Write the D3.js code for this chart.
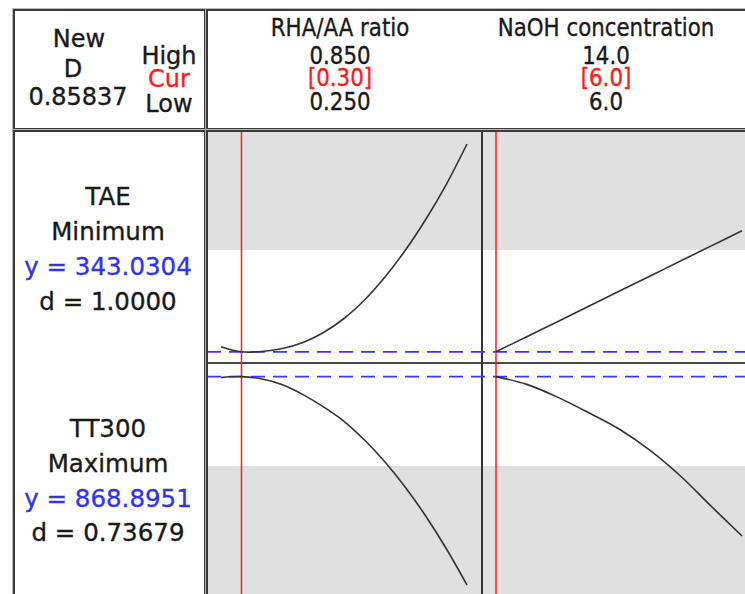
<!DOCTYPE html>
<html>
<head>
<meta charset="utf-8">
<script src="https://cdn.jsdelivr.net/npm/d3@7"></script>
<style>
  html, body { margin: 0; padding: 0; background: #fff; }
  svg { display: block; }
  text { font-family: "DejaVu Sans", Verdana, sans-serif; stroke-width: 0.35px; }
</style>
</head>
<body>
<svg id="chart" width="745" height="594"></svg>
<script>
// ---- Optimizer settings ----
const compositeD = "0.85837";
const factorNames = ["RHA/AA ratio", "NaOH concentration"];
const factorHighLabels = ["0.850", "14.0"];
const factorCurLabels = ["[0.30]", "[6.0]"];
const factorLowLabels = ["0.250", "6.0"];
const factorLow = [0.25, 6.0];
const factorHigh = [0.85, 14.0];
const factorCur = [0.30, 6.0];

// ---- Responses ----
const responseNames = ["TAE", "TT300"];
const responseGoals = ["Minimum", "Maximum"];
const responsePredicted = [343.0304, 868.8951];
const responsePredictedLabels = ["y = 343.0304", "y = 868.8951"];
const responseDLabels = ["d = 1.0000", "d = 0.73679"];
const responseDomains = [[290, 1390], [490, 892.5]];
// shaded (undesirable) zone of each response
const responseShade = [[826, 1390], [490, 714]];

// ---- Prediction traces ----
const ratioGrid = [0.25, 0.30, 0.35, 0.40, 0.45, 0.50, 0.55, 0.60, 0.65, 0.70, 0.75, 0.80, 0.85];
const taeVsRatio = [367.3, 343.03, 344.5, 358.7, 387.2, 434.6, 501.0, 588.7, 697.7, 825.7, 972.7, 1138.6, 1328.3];
const tt300VsRatio = [867.3, 868.9, 864.7, 854.8, 837.7, 816.3, 791.4, 758.9, 720.7, 676.5, 626.2, 569.8, 507.3];

const naohGrid = [6, 7, 8, 9, 10, 11, 12, 13, 14];
const taeVsNaoh = [343.03, 414.5, 486.0, 558.1, 629.8, 701.6, 773.4, 845.3, 917.2];
const tt300VsNaoh = [868.9, 855.4, 833.3, 806.6, 778.0, 741.4, 696.5, 643.9, 592.4];

const traces = [
  [ {x: ratioGrid, y: taeVsRatio},   {x: naohGrid, y: taeVsNaoh} ],
  [ {x: ratioGrid, y: tt300VsRatio}, {x: naohGrid, y: tt300VsNaoh} ]
];

// ---- Layout ----
const W = 745, H = 594;
const leftX = 14, leftW = 191;
const gridX = 207, gridRight = 767;
const topY = 10, headH = 119;
const plotTop = 131, plotBottom = 601;
const panelW = 275;
const rowH = 232;
const headerCentres = [340, 606];

const svg = d3.select("#chart");
svg.append("rect").attr("width", W).attr("height", H).attr("fill", "#fff");

const blue = "#3333ee", red = "#ff1a1a", ink = "#1a1a1a";

// x scale of each factor panel
const xScales = factorNames.map((_, i) => {
  const left = gridX + i * panelW;
  return d3.scaleLinear().domain([factorLow[i], factorHigh[i]]).range([left + 14, left + 260]);
});
// y scale of each response row
const yScales = responseNames.map((_, r) => {
  const top = plotTop + r * rowH;
  return d3.scaleLinear().domain(responseDomains[r]).range([top + rowH, top]);
});

// ---- Plot area contents (clipped to the frame) ----
svg.append("defs").append("clipPath").attr("id", "plotClip")
  .append("rect").attr("x", gridX + 1).attr("y", plotTop + 1)
  .attr("width", gridRight - gridX).attr("height", plotBottom - plotTop);

const plot = svg.append("g").attr("clip-path", "url(#plotClip)");

// shaded zones
responseNames.forEach((_, r) => {
  const y = yScales[r];
  plot.append("rect")
    .attr("x", gridX).attr("width", gridRight - gridX)
    .attr("y", y(responseShade[r][1]))
    .attr("height", y(responseShade[r][0]) - y(responseShade[r][1]))
    .attr("fill", "#e0e0e0");
});

// row separator
plot.append("line")
  .attr("x1", gridX).attr("x2", gridRight)
  .attr("y1", plotTop + rowH).attr("y2", plotTop + rowH)
  .attr("stroke", "#4a4a4a").attr("stroke-width", 2);

// panel divider
plot.append("line")
  .attr("x1", gridX + panelW).attr("x2", gridX + panelW)
  .attr("y1", plotTop).attr("y2", plotBottom)
  .attr("stroke", "#333").attr("stroke-width", 2);

// current-setting lines
factorNames.forEach((_, i) => {
  const x = xScales[i](factorCur[i]);
  plot.append("line")
    .attr("x1", x).attr("x2", x).attr("y1", plotTop).attr("y2", plotBottom)
    .attr("stroke", red).attr("stroke-width", 1.5);
});

// predicted-response lines
responseNames.forEach((_, r) => {
  const y = yScales[r](responsePredicted[r]);
  plot.append("line")
    .attr("x1", gridX).attr("x2", gridRight).attr("y1", y).attr("y2", y)
    .attr("stroke", "#3a3af5").attr("stroke-width", 1.8)
    .attr("stroke-dasharray", "14,8");
});

// prediction traces
traces.forEach((row, r) => {
  row.forEach((tr, i) => {
    const pts = tr.x.map((v, k) => [v, tr.y[k]]);
    const line = d3.line()
      .x(d => xScales[i](d[0]))
      .y(d => yScales[r](d[1]))
      .curve(d3.curveCatmullRom.alpha(0.5));
    plot.append("path").attr("d", line(pts))
      .attr("fill", "none").attr("stroke", "#333").attr("stroke-width", 1.6);
  });
});

// ---- Frames ----
function frame(x, y, w, h) {
  svg.append("rect").attr("x", x - 1.5).attr("y", y - 1.5).attr("width", w + 3).attr("height", h + 3)
    .attr("fill", "none").attr("stroke", "#b8b8b8").attr("stroke-width", 1);
  svg.append("rect").attr("x", x).attr("y", y).attr("width", w).attr("height", h)
    .attr("fill", "none").attr("stroke", "#3a3a3a").attr("stroke-width", 2);
}
frame(leftX, topY, leftW, headH);
frame(gridX, topY, gridRight - gridX, headH);
frame(leftX, plotTop, leftW, plotBottom - plotTop);
frame(gridX, plotTop, gridRight - gridX, plotBottom - plotTop);

// ---- Composite desirability box ----
const tl = svg.append("g").attr("font-size", 24).attr("fill", ink).attr("stroke", ink)
  .attr("text-anchor", "middle");
tl.append("text").attr("x", 79).attr("y", 47).text("New");
tl.append("text").attr("x", 73).attr("y", 77).text("D");
tl.append("text").attr("x", 78).attr("y", 105).text(compositeD);
tl.append("text").attr("x", 169).attr("y", 64).text("High");
tl.append("text").attr("x", 169).attr("y", 87).attr("fill", red).attr("stroke", red).text("Cur");
tl.append("text").attr("x", 169).attr("y", 112).text("Low");

// ---- Factor headers ----
function headText(cx, y, str, color) {
  const c = color || ink;
  svg.append("g").attr("transform", `translate(${cx},${y}) scale(0.89,1)`)
    .append("text").attr("text-anchor", "middle").attr("font-size", 24)
    .attr("fill", c).attr("stroke", c).text(str);
}
factorNames.forEach((name, i) => {
  const cx = headerCentres[i];
  headText(cx, 36, name);
  headText(cx, 64, factorHighLabels[i]);
  headText(cx, 86, factorCurLabels[i], red);
  headText(cx, 110, factorLowLabels[i]);
});

// ---- Response labels ----
const labelBase = [[205, 240, 275, 310], [437, 472, 507, 541]];
responseNames.forEach((name, r) => {
  const g = svg.append("g").attr("font-size", 24.5).attr("text-anchor", "middle")
    .attr("fill", ink).attr("stroke", ink);
  const cx = 108;
  g.append("text").attr("x", cx).attr("y", labelBase[r][0]).text(name);
  g.append("text").attr("x", cx).attr("y", labelBase[r][1]).text(responseGoals[r]);
  g.append("text").attr("x", cx).attr("y", labelBase[r][2])
    .attr("fill", blue).attr("stroke", blue).text(responsePredictedLabels[r]);
  g.append("text").attr("x", cx).attr("y", labelBase[r][3]).text(responseDLabels[r]);
});
</script>
</body>
</html>
